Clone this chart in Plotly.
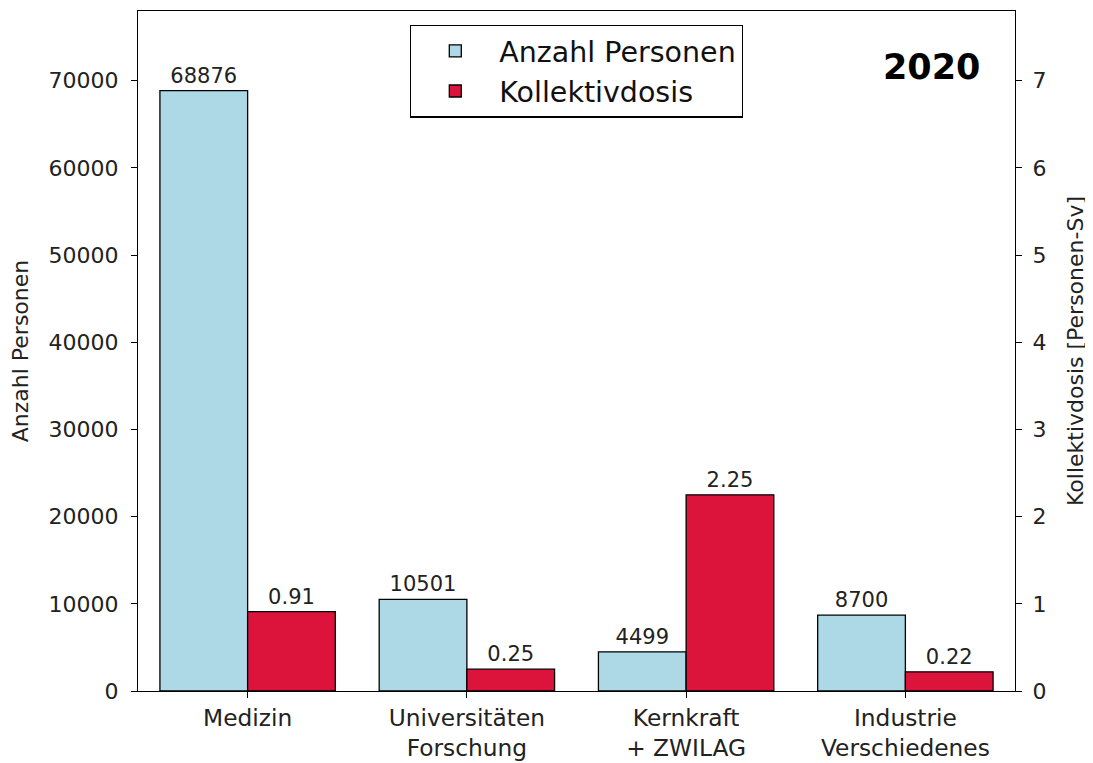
import plotly.graph_objects as go

categories = ["Medizin", "Universitäten<br>Forschung", "Kernkraft<br>+ ZWILAG", "Industrie<br>Verschiedenes"]
anzahl_personen = [68876, 10501, 4499, 8700]
kollektivdosis = [0.91, 0.25, 2.25, 0.22]
left_ticks = [0, 10000, 20000, 30000, 40000, 50000, 60000, 70000]
right_ticks = [0, 1, 2, 3, 4, 5, 6, 7]
year_label = "2020"

FONT = "DejaVu Sans"
TXT = "#222"

fig = go.Figure()
fig.add_trace(go.Bar(
    x=categories, y=anzahl_personen, name="Anzahl Personen",
    marker=dict(color="#ADD8E6", line=dict(color="black", width=1.3)),
    width=0.4, offset=-0.4,
    text=[str(v) for v in anzahl_personen], textposition="outside",
    textfont=dict(family=FONT, size=21, color=TXT),
    cliponaxis=False, yaxis="y",
))
fig.add_trace(go.Bar(
    x=categories, y=kollektivdosis, name="Kollektivdosis",
    marker=dict(color="#DC143C", line=dict(color="black", width=1.3)),
    width=0.4, offset=0.0,
    text=[f"{v:.2f}" for v in kollektivdosis], textposition="outside",
    textfont=dict(family=FONT, size=21, color=TXT),
    cliponaxis=False, yaxis="y2",
))

fig.update_layout(
    width=1085, height=755,
    margin=dict(l=130, r=78, t=2, b=65),
    paper_bgcolor="white", plot_bgcolor="white",
    font=dict(family=FONT, size=22, color=TXT),
    barmode="overlay",
    showlegend=True,
    legend=dict(
        x=0.5, y=0.98, xanchor="center", yanchor="top",
        bgcolor="white", bordercolor="black", borderwidth=1.3,
        font=dict(family=FONT, size=28.5, color="#111"),
        itemwidth=78, traceorder="normal",
    ),
    xaxis=dict(
        range=[-0.5, 3.5], showline=True, linecolor="black", linewidth=1.3,
        mirror=True, ticks="outside", ticklen=6, tickcolor="black",
        tickfont=dict(family=FONT, size=23.3, color=TXT),
        showgrid=False, zeroline=False,
    ),
    yaxis=dict(
        range=[0, 78000], tickvals=left_ticks, ticktext=[str(v) for v in left_ticks],
        showline=True, linecolor="black", linewidth=1.3,
        ticks="outside", ticklen=6, tickcolor="black", ticklabelstandoff=8,
        tickfont=dict(family=FONT, size=22, color=TXT),
        title=dict(text="Anzahl Personen", font=dict(family=FONT, size=22, color=TXT), standoff=14),
        showgrid=False, zeroline=False,
    ),
    yaxis2=dict(
        range=[0, 7.8], tickvals=right_ticks, ticktext=[str(v) for v in right_ticks],
        overlaying="y", side="right",
        showline=True, linecolor="black", linewidth=1.3,
        ticks="outside", ticklen=6, tickcolor="black", ticklabelstandoff=6,
        tickfont=dict(family=FONT, size=22, color=TXT),
        title=dict(text="Kollektivdosis [Personen-Sv]", font=dict(family=FONT, size=22, color=TXT), standoff=22),
        showgrid=False, zeroline=False,
    ),
    annotations=[dict(
        text="<b>" + year_label + "</b>", xref="paper", yref="paper",
        x=0.962, y=0.918, xanchor="right", yanchor="middle", showarrow=False,
        font=dict(family=FONT, size=35, color="black"),
    )],
)

fig.write_html("out.html")
